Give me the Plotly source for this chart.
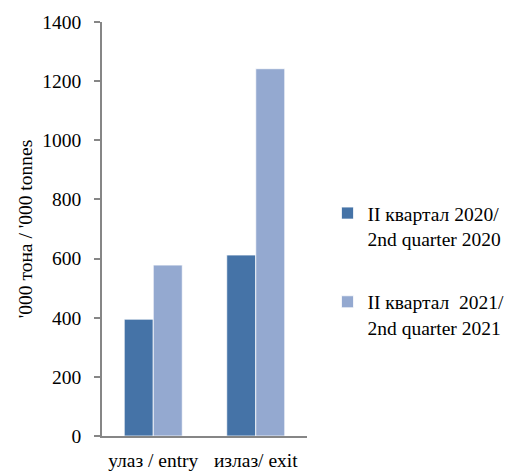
import plotly.graph_objects as go

categories = ["улаз / entry", "излаз/ exit"]
series_names = ["II квартал 2020/<br>2nd quarter 2020", "II квартал\u00a0 2021/<br>2nd quarter 2021"]
values_2020 = [395, 612]
values_2021 = [578, 1242]
colors = ["#4573A7", "#94A9D0"]
y_ticks = [0, 200, 400, 600, 800, 1000, 1200, 1400]

FONT = "'Liberation Serif', 'DejaVu Serif', serif"
FS = 19.5

fig = go.Figure()
for i, (name, vals) in enumerate(zip(series_names, [values_2020, values_2021])):
    fig.add_trace(go.Bar(
        x=categories, y=vals, name=name,
        marker=dict(color=colors[i], line=dict(color="white", width=0.75)),
        legendgroup=f"g{i}",
    ))

fig.update_layout(
    template="none",
    width=521, height=475,
    margin=dict(l=94, r=222, t=14, b=47, autoexpand=False),
    paper_bgcolor="white", plot_bgcolor="white",
    font=dict(family=FONT, size=FS, color="black"),
    barmode="group", bargap=0.434, bargroupgap=0,
    showlegend=True,
    legend=dict(
        x=1.10, xanchor="left", y=0.40, yanchor="middle",
        valign="top", tracegroupgap=35,
        font=dict(family=FONT, size=FS, color="black"),
        bgcolor="rgba(0,0,0,0)",
    ),
    xaxis=dict(
        showline=True, linecolor="#868686", linewidth=1.5,
        ticks="", showgrid=False, zeroline=False, ticklabelstandoff=6,
        tickfont=dict(family=FONT, size=FS, color="black"),
    ),
    yaxis=dict(
        range=[0, 1400], tickvals=y_ticks, ticktext=[str(v) for v in y_ticks],
        showline=True, linecolor="#868686", linewidth=1.5,
        ticks="outside", ticklen=6, tickcolor="#868686", tickwidth=1.5,
        showgrid=False, zeroline=False, ticklabelstandoff=9,
        tickfont=dict(family=FONT, size=FS, color="black"),
        title=dict(text="'000 тона / '000 tonnes", standoff=5,
                   font=dict(family=FONT, size=FS, color="black")),
    ),
)

fig.write_html("out.html")
